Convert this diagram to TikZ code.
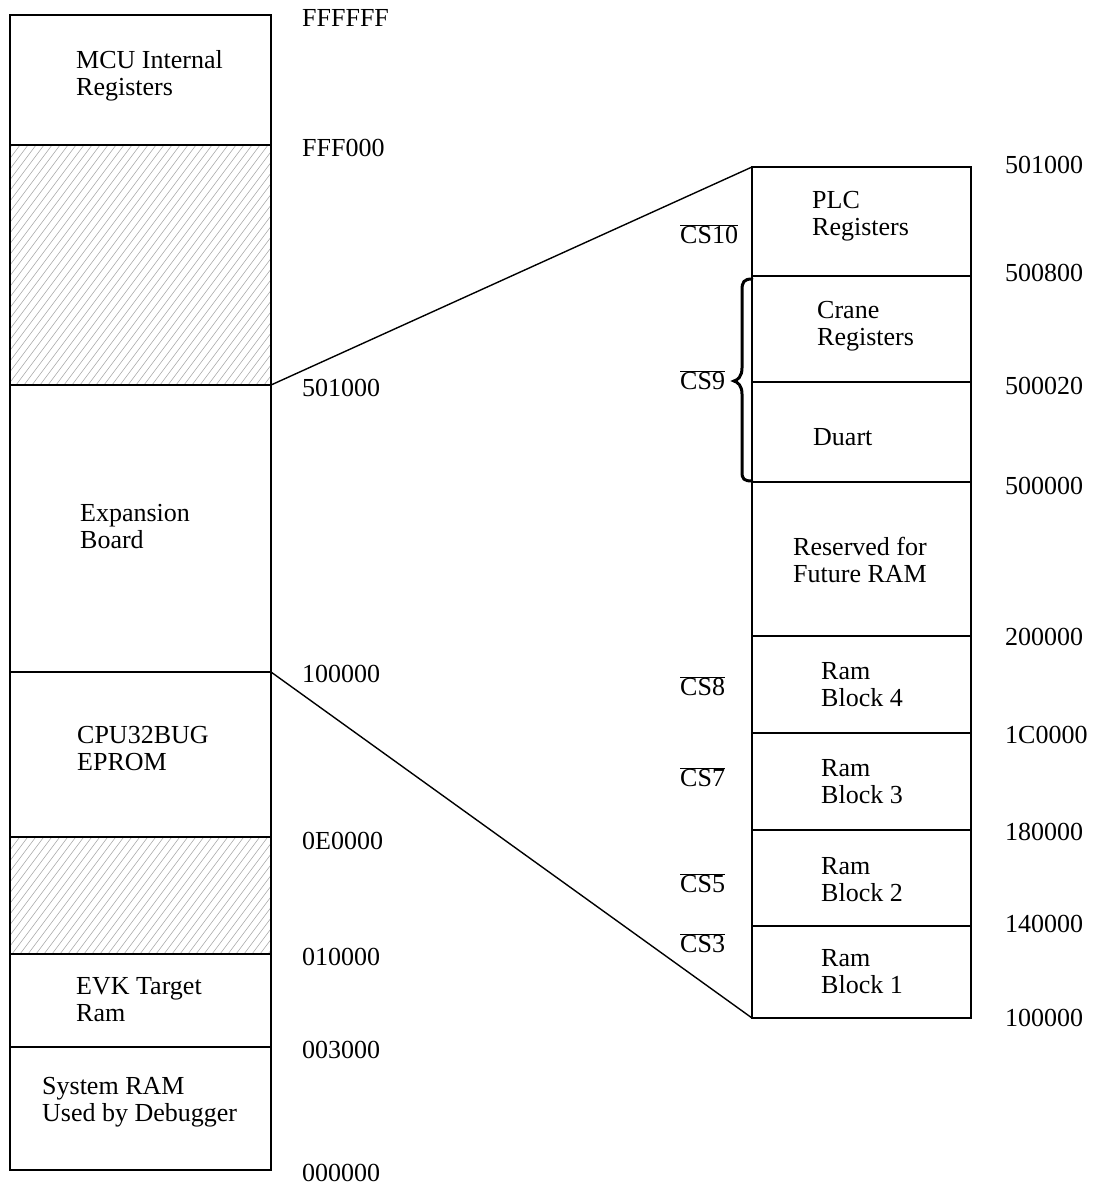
\documentclass[tikz,border=0pt]{standalone}
\usepackage{fontspec}
\setmainfont{Liberation Serif}
\begin{document}
\begin{tikzpicture}[x=1pt,y=-1pt,
  lbl/.style={anchor=west,align=left,inner sep=0pt,font=\fontsize{26}{27}\selectfont},
  addr/.style={anchor=west,inner sep=0pt,font=\fontsize{26}{27}\selectfont},
  cs/.style={anchor=west,inner sep=0pt,font=\fontsize{26}{27}\selectfont},
  lbox/.style={draw=black,line width=1.8pt},
  rbox/.style={draw=black,line width=1.4pt},
  hatch/.style={draw=gray!65,line width=0.6pt},
  conn/.style={draw=black,line width=1.4pt}]
\useasboundingbox (0,0) rectangle (1096,1186);
% hatching
\begin{scope}
  \clip (10,145) rectangle (271,385);
  \foreach \i in {-200,-192,...,280} \draw[hatch] (\i,385) -- ++(180,-240);
\end{scope}
\begin{scope}
  \clip (10,837) rectangle (271,954);
  \foreach \i in {-100,-92,...,280} \draw[hatch] (\i,954) -- ++(87.75,-117);
\end{scope}
% left column
\draw[lbox] (10,15) rectangle (271,1170);
\foreach \y in {145,385,672,837,954,1047} \draw[lbox] (10,\y) -- (271,\y);
% right column
\draw[rbox] (752,167) rectangle (971,1018);
\foreach \y in {276,382,482,636,733,830,926} \draw[rbox] (752,\y) -- (971,\y);
% named anchor coordinates
\coordinate (expTop) at (271,385);
\coordinate (expBot) at (271,672);
\coordinate (rTop) at (752,167);
\coordinate (rBot) at (752,1018);
\draw[conn] (expTop) -- (rTop);
\draw[conn] (expBot) -- (rBot);
% left labels
\node[lbl] (mcu) at (76,75.5) {MCU Internal\\Registers};
\node[lbl] (exp) at (80,526.5) {Expansion\\Board};
\node[lbl] (cpu) at (77,748.5) {CPU32BUG\\EPROM};
\node[lbl] (evk) at (76,999.5) {EVK Target\\Ram};
\node[lbl] (sys) at (42,1102.5) {System RAM\\Used by Debugger};
% left addresses
\node[addr] (a1) at (302,18) {FFFFFF};
\node[addr] (a2) at (302,148) {FFF000};
\node[addr] (a3) at (302,388) {501000};
\node[addr] (a4) at (302,674) {100000};
\node[addr] (a5) at (302,841) {0E0000};
\node[addr] (a6) at (302,957) {010000};
\node[addr] (a7) at (302,1050) {003000};
\node[addr] (a8) at (302,1173) {000000};
% right labels
\node[lbl] (plc) at (812,216.5) {PLC\\Registers};
\node[lbl] (crane) at (817,326.5) {Crane\\Registers};
\node[lbl] (duart) at (813,437) {Duart};
\node[lbl] (resv) at (793,559.5) {Reserved for\\Future RAM};
\node[lbl] (rb4) at (821,684.5) {Ram\\Block 4};
\node[lbl] (rb3) at (821,781.5) {Ram\\Block 3};
\node[lbl] (rb2) at (821,879.5) {Ram\\Block 2};
\node[lbl] (rb1) at (821,971.5) {Ram\\Block 1};
% right addresses
\node[addr] (b1) at (1005,165) {501000};
\node[addr] (b2) at (1005,273) {500800};
\node[addr] (b3) at (1005,386) {500020};
\node[addr] (b4) at (1005,486) {500000};
\node[addr] (b5) at (1005,637) {200000};
\node[addr] (b6) at (1005,735) {1C0000};
\node[addr] (b7) at (1005,832) {180000};
\node[addr] (b8) at (1005,924) {140000};
\node[addr] (b9) at (1005,1018) {100000};
% chip selects
\node[cs] (cs10) at (680,234) {$\overline{\mbox{CS10}}$};
\node[cs] (cs9) at (680,380) {$\overline{\mbox{CS9}}$};
\node[cs] (cs8) at (680,686) {$\overline{\mbox{CS8}}$};
\node[cs] (cs7) at (680,777) {$\overline{\mbox{CS7}}$};
\node[cs] (cs5) at (680,883) {$\overline{\mbox{CS5}}$};
\node[cs] (cs3) at (680,943) {$\overline{\mbox{CS3}}$};
% brace
\draw[black,line width=3pt,line cap=round]
  (752,279) .. controls (744,279) and (742,282) .. (742,290)
  -- (742,368) .. controls (742,376) and (738,380) .. (734,381)
  .. controls (738,382) and (742,386) .. (742,394)
  -- (742,472) .. controls (742,479) and (744,481) .. (752,481);
\end{tikzpicture}
\end{document}
